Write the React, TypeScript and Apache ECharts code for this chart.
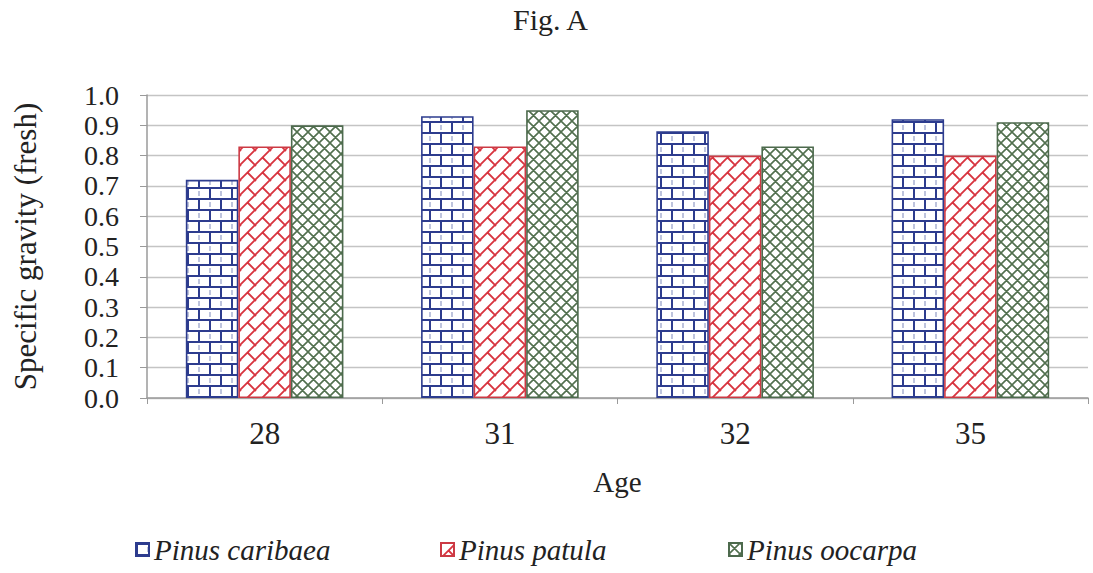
import React, { useEffect, useRef } from "react";
import * as echarts from "echarts";

// Age classes and fresh specific gravity per species
const ages = ["28", "31", "32", "35"];
const caribaea = [0.72, 0.93, 0.88, 0.92];
const patula = [0.83, 0.83, 0.8, 0.8];
const oocarpa = [0.9, 0.95, 0.83, 0.91];
const seriesNames = ["Pinus caribaea", "Pinus patula", "Pinus oocarpa"];

const FONT = "'Liberation Serif', 'Times New Roman', serif";

function makeTile(w: number, h: number, draw: (ctx: CanvasRenderingContext2D) => void) {
  const c = document.createElement("canvas");
  c.width = w;
  c.height = h;
  const ctx = c.getContext("2d")!;
  ctx.fillStyle = "#ffffff";
  ctx.fillRect(0, 0, w, h);
  draw(ctx);
  return c;
}

// horizontal brick fill
function brickPattern(color: string) {
  const S = 22;
  const canvas = makeTile(S, S, (ctx) => {
    ctx.strokeStyle = color;
    ctx.lineWidth = 2;
    ctx.beginPath();
    ctx.moveTo(0, 1); ctx.lineTo(S, 1);
    ctx.moveTo(0, 12); ctx.lineTo(S, 12);
    ctx.moveTo(1, 1); ctx.lineTo(1, 12);
    ctx.moveTo(12, 12); ctx.lineTo(12, S + 1);
    ctx.stroke();
    ctx.strokeStyle = "#a9b1d2";
    ctx.lineWidth = 1.5;
    ctx.beginPath();
    ctx.moveTo(12, 4); ctx.lineTo(12, 9);
    ctx.moveTo(1, 15); ctx.lineTo(1, 20);
    ctx.stroke();
  });
  return { image: canvas, repeat: "repeat", imageWidth: S, imageHeight: S } as any;
}

// diagonal brick fill: long courses running up to the right, short joints
function diagBrickPattern(color: string) {
  const S = 15;
  const canvas = makeTile(S, S, (ctx) => {
    ctx.strokeStyle = color;
    ctx.lineWidth = 1.8;
    ctx.beginPath();
    for (const k of [-1, 0, 1]) {
      ctx.moveTo(k * S, S);
      ctx.lineTo(k * S + S, 0);
    }
    ctx.moveTo(S / 2, S / 2); ctx.lineTo(S + 1, S + 1);
    ctx.moveTo(S / 2 - S, S / 2 - S); ctx.lineTo(1, 1);
    ctx.stroke();
  });
  return { image: canvas, repeat: "repeat", imageWidth: S, imageHeight: S } as any;
}

// diagonal cross-hatch fill
function crossPattern(color: string) {
  const S = 11;
  const canvas = makeTile(S, S, (ctx) => {
    ctx.strokeStyle = color;
    ctx.lineWidth = 1.6;
    ctx.beginPath();
    for (const k of [-1, 0, 1]) {
      ctx.moveTo(k * S, S);
      ctx.lineTo(k * S + S, 0);
      ctx.moveTo(k * S, 0);
      ctx.lineTo(k * S + S, S);
    }
    ctx.stroke();
  });
  return { image: canvas, repeat: "repeat", imageWidth: S, imageHeight: S } as any;
}

const BLUE = "#2d3c8e";
const RED = "#d8343f";
const GREEN = "#52704f";

export default function App() {
  const ref = useRef<HTMLDivElement>(null);

  useEffect(() => {
    if (!ref.current) return;
    const chart = echarts.init(ref.current, undefined, { renderer: "svg" });

    const fills = [brickPattern(BLUE), diagBrickPattern(RED), crossPattern(GREEN)];
    const borders = [BLUE, "#cc3a44", "#4d6a4d"];
    const values = [caribaea, patula, oocarpa];
    const legendLeft = [135, 440, 728];

    chart.setOption({
      animation: false,
      backgroundColor: "#ffffff",
      title: {
        text: "Fig. A",
        left: 513,
        top: 4,
        padding: 0,
        textStyle: { fontFamily: FONT, fontSize: 30, fontWeight: "normal", color: "#222" },
      },
      legend: seriesNames.map((name, i) => ({
        data: [name],
        left: legendLeft[i],
        top: 535,
        padding: 0,
        itemWidth: 13,
        itemHeight: 13,
        icon: "rect",
        textStyle: { fontFamily: FONT, fontStyle: "italic", fontSize: 29, color: "#222" },
      })),
      grid: { left: 147, right: 5, top: 95, bottom: 175, containLabel: false },
      xAxis: {
        type: "category",
        data: ages,
        name: "Age",
        nameLocation: "middle",
        nameGap: 69,
        nameTextStyle: { fontFamily: FONT, fontSize: 29, color: "#222" },
        axisLine: { lineStyle: { color: "#9a9a9a", width: 1.5 } },
        axisTick: { show: true, length: 6, lineStyle: { color: "#9a9a9a" } },
        axisLabel: { margin: 20, fontFamily: FONT, fontSize: 31, color: "#222" },
      },
      yAxis: {
        type: "value",
        min: 0,
        max: 1,
        interval: 0.1,
        name: "Specific gravity (fresh)",
        nameLocation: "middle",
        nameGap: 106,
        nameTextStyle: { fontFamily: FONT, fontSize: 31, color: "#222" },
        axisLine: { show: true, lineStyle: { color: "#9a9a9a", width: 1.5 } },
        axisTick: { show: true, length: 7, lineStyle: { color: "#9a9a9a" } },
        splitLine: { lineStyle: { color: "#c4c4c4", width: 1.4 } },
        axisLabel: {
          margin: 28,
          fontFamily: FONT,
          fontSize: 28,
          lineHeight: 27,
          color: "#222",
          showMinLabel: true,
          showMaxLabel: true,
          hideOverlap: false,
          formatter: (v: number) => v.toFixed(1),
        },
      },
      series: seriesNames.map((name, i) => ({
        name,
        type: "bar",
        data: values[i],
        barGap: "0%",
        barCategoryGap: "33%",
        itemStyle: { color: fills[i], borderColor: borders[i], borderWidth: 1.6 },
      })),
    });

    return () => chart.dispose();
  }, []);

  return (
    <div
      ref={ref}
      style={{ position: "absolute", left: 0, top: 0, width: 1093, height: 573, background: "#fff" }}
    />
  );
}
